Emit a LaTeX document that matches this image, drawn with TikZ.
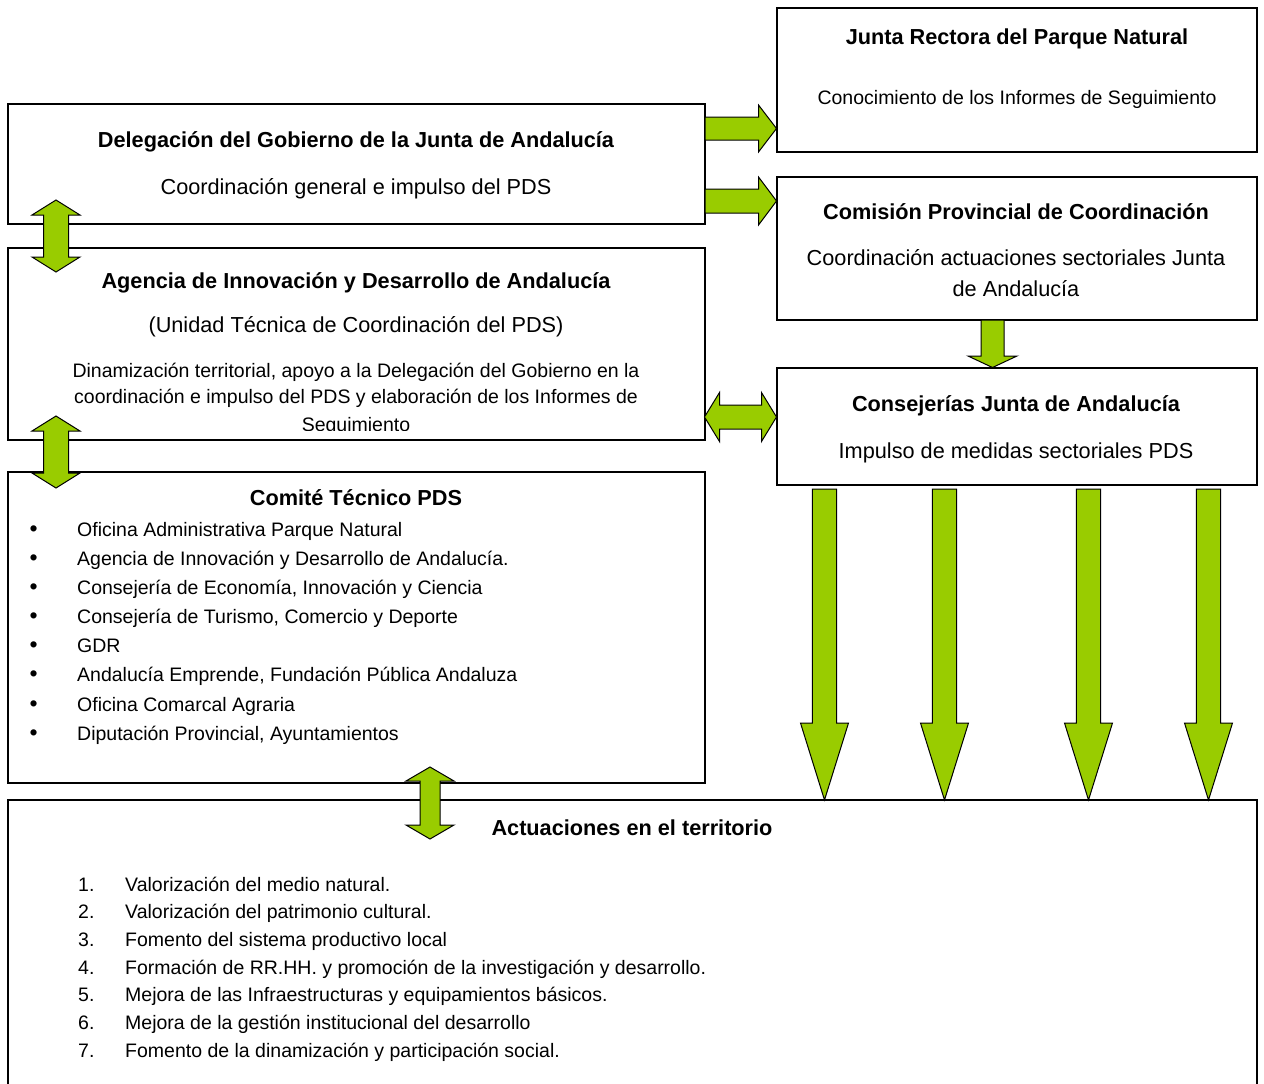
\documentclass[tikz,border=0pt]{standalone}
\usepackage{fontspec}
\setmainfont{Liberation Sans}
\usetikzlibrary{calc}
\definecolor{lima}{HTML}{99CC00}
\tikzset{
  caja/.style={draw, line width=1.3pt, anchor=north west, inner sep=0pt, outer sep=0pt},
  titulo/.style={anchor=base, font=\fontsize{21.7}{26}\selectfont\bfseries},
  texto/.style={anchor=base, font=\fontsize{21.7}{26}\selectfont},
  chico/.style={anchor=base, font=\fontsize{19.5}{24}\selectfont},
  lista/.style={anchor=base west, inner sep=0pt, font=\fontsize{19.5}{24}\selectfont},
  flecha/.style={draw=black, line width=1pt, fill=lima, line join=miter}
}
\newcommand{\punto}{\makebox[47.5pt][l]{\fontsize{23}{24}\selectfont\textbullet}}
\newcommand{\flechaSimple}[5]{%
  \coordinate (fh) at ($(#2)!#5!(#1)$);
  \draw[flecha] ($(#1)!#3!90:(#2)$) -- ($(fh)!#3!90:(#2)$) -- ($(fh)!#4!90:(#2)$) -- (#2)
    -- ($(fh)!#4!-90:(#2)$) -- ($(fh)!#3!-90:(#2)$) -- ($(#1)!#3!-90:(#2)$) -- cycle;}
\newcommand{\flechaDoble}[5]{%
  \coordinate (fa) at ($(#1)!#5!(#2)$);
  \coordinate (fb) at ($(#2)!#5!(#1)$);
  \draw[flecha] (#1) -- ($(fa)!#4!90:(#2)$) -- ($(fa)!#3!90:(#2)$) -- ($(fb)!#3!90:(#2)$)
    -- ($(fb)!#4!90:(#2)$) -- (#2) -- ($(fb)!#4!-90:(#2)$) -- ($(fb)!#3!-90:(#2)$)
    -- ($(fa)!#3!-90:(#2)$) -- ($(fa)!#4!-90:(#2)$) -- cycle;}
\begin{document}
\begin{tikzpicture}[x=1pt, y=-1pt]
    \useasboundingbox (0,0) rectangle (1264,1084);
    \node[caja, minimum width=480, minimum height=144] (junta) at (777,8) {};
    \node[caja, minimum width=697, minimum height=120] (deleg) at (8,104) {};
    \node[caja, minimum width=480, minimum height=143] (comision) at (777,177) {};
    \node[caja, minimum width=697, minimum height=192] (agencia) at (8,248) {};
    \node[caja, minimum width=480, minimum height=117] (consej) at (777,368) {};
    \node[caja, minimum width=697, minimum height=311] (comite) at (8,472) {};
    \node[caja, minimum width=1249, minimum height=300] (actua) at (8,800) {};

    \node[titulo] (juntaT) at (1017,44) {Junta Rectora del Parque Natural};
    \node[texto, font=\fontsize{19.5}{24}\selectfont] (juntaS) at (1017,104) {Conocimiento de los Informes de Seguimiento};
    \node[titulo] (delegT) at (356,147) {Delegación del Gobierno de la Junta de Andalucía};
    \node[texto] (delegS) at (356,194) {Coordinación general e impulso del PDS};
    \node[titulo] (comisionT) at (1016,219) {Comisión Provincial de Coordinación};
    \node[texto] (comisionS1) at (1016,265) {Coordinación actuaciones sectoriales Junta};
    \node[texto] (comisionS2) at (1016,296) {de Andalucía};
    \node[titulo] (agenciaT) at (356,288) {Agencia de Innovación y Desarrollo de Andalucía};
    \node[texto] (agenciaS) at (356,332) {(Unidad Técnica de Coordinación del PDS)};
    \node[chico] (agencia1) at (356,377) {Dinamización territorial, apoyo a la Delegación del Gobierno en la};
    \node[chico] (agencia2) at (356,403) {coordinación e impulso del PDS y elaboración de los Informes de};
    \begin{scope}
      \clip (agencia.north west) rectangle (705,430);
      \node[chico] (agencia3) at (356,431) {Seguimiento};
    \end{scope}
    \node[titulo] (consejT) at (1016,411) {Consejerías Junta de Andalucía};
    \node[texto] (consejS) at (1016,458) {Impulso de medidas sectoriales PDS};
    \node[titulo] (comiteT) at (356,505) {Comité Técnico PDS};
    \node[lista] (b1) at (29.5,536) {\punto Oficina Administrativa Parque Natural};
    \node[lista] (b2) at (29.5,565) {\punto Agencia de Innovación y Desarrollo de Andalucía.};
    \node[lista] (b3) at (29.5,594) {\punto Consejería de Economía, Innovación y Ciencia};
    \node[lista] (b4) at (29.5,623) {\punto Consejería de Turismo, Comercio y Deporte};
    \node[lista] (b5) at (29.5,652) {\punto GDR};
    \node[lista] (b6) at (29.5,681) {\punto Andalucía Emprende, Fundación Pública Andaluza};
    \node[lista] (b7) at (29.5,711) {\punto Oficina Comarcal Agraria};
    \node[lista] (b8) at (29.5,740) {\punto Diputación Provincial, Ayuntamientos};
    \node[titulo] (actuaT) at (632,835) {Actuaciones en el territorio};
    \node[lista] (m1) at (78,891) {\makebox[47pt][l]{1.}Valorización del medio natural.};
    \node[lista] (m2) at (78,918) {\makebox[47pt][l]{2.}Valorización del patrimonio cultural.};
    \node[lista] (m3) at (78,946) {\makebox[47pt][l]{3.}Fomento del sistema productivo local};
    \node[lista] (m4) at (78,974) {\makebox[47pt][l]{4.}Formación de RR.HH. y promoción de la investigación y desarrollo.};
    \node[lista] (m5) at (78,1001) {\makebox[47pt][l]{5.}Mejora de las Infraestructuras y equipamientos básicos.};
    \node[lista] (m6) at (78,1029) {\makebox[47pt][l]{6.}Mejora de la gestión institucional del desarrollo};
    \node[lista] (m7) at (78,1057) {\makebox[47pt][l]{7.}Fomento de la dinamización y participación social.};

    \coordinate (d1) at (705,128.5);
    \coordinate (j1) at (776.5,128.5);
    \coordinate (d2) at (705,201);
    \coordinate (c1) at (776.5,201);
    \coordinate (d3) at (56,200);
    \coordinate (a3) at (56,272);
    \coordinate (a4) at (56,416);
    \coordinate (t4) at (56,488);
    \coordinate (a5) at (704.5,417);
    \coordinate (k5) at (776.5,417);
    \coordinate (c6) at (992.5,320);
    \coordinate (k6) at (992.5,367.5);
    \coordinate (t7) at (430,767);
    \coordinate (v7) at (430,839);
    \flechaSimple{d1}{j1}{11.5pt}{23.5pt}{18pt}
    \flechaSimple{d2}{c1}{12pt}{24pt}{18pt}
    \flechaDoble{d3}{a3}{12.5pt}{24pt}{15pt}
    \flechaDoble{a4}{t4}{12.5pt}{24pt}{15pt}
    \flechaDoble{a5}{k5}{12pt}{24.5pt}{15pt}
    \flechaSimple{c6}{k6}{11.5pt}{24.5pt}{11.5pt}
    \flechaDoble{t7}{v7}{10pt}{24pt}{14pt}
    \coordinate (k8) at (824.5,489);
    \coordinate (v8) at (824.5,800);
    \coordinate (k9) at (944.5,489);
    \coordinate (v9) at (944.5,800);
    \coordinate (k10) at (1088.5,489);
    \coordinate (v10) at (1088.5,800);
    \coordinate (k11) at (1208.5,489);
    \coordinate (v11) at (1208.5,800);
    \flechaSimple{k8}{v8}{12.2pt}{24pt}{77pt}
    \flechaSimple{k9}{v9}{12.2pt}{24pt}{77pt}
    \flechaSimple{k10}{v10}{12.2pt}{24pt}{77pt}
    \flechaSimple{k11}{v11}{12.2pt}{24pt}{77pt}
\end{tikzpicture}
\end{document}
